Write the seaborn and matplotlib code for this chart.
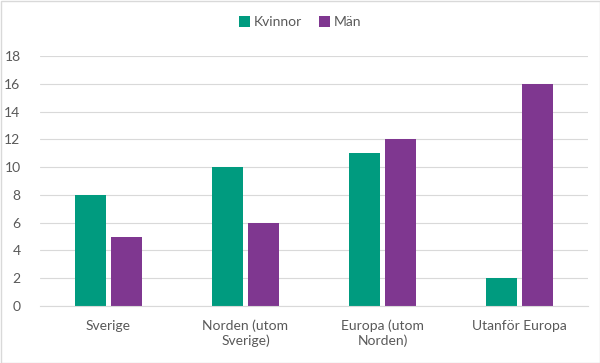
import matplotlib
matplotlib.use("Agg")
import matplotlib.pyplot as plt
import seaborn as sns
import pandas as pd
from matplotlib.patches import Rectangle

categories = ["Sverige", "Norden (utom\nSverige)", "Europa (utom\nNorden)", "Utanför Europa"]
kvinnor = [8, 10, 11, 2]
man = [5, 6, 12, 16]
series = ["Kvinnor", "Män"]
colors = ["#009B7F", "#7F3790"]

df = pd.DataFrame({
    "cat": categories * 2,
    "val": kvinnor + man,
    "kon": [series[0]] * 4 + [series[1]] * 4,
})

sns.set_style("white")
plt.rcParams["font.family"] = ["Lato", "DejaVu Sans"]

fig = plt.figure(figsize=(6, 3.63), dpi=100)
ax = fig.add_axes([40/600, 1-306/363, 548/600, 250/363])
sns.barplot(data=df, x="cat", y="val", hue="kon", palette=colors, ax=ax,
            width=0.52, gap=0.12, saturation=1, legend=True, linewidth=0)

ax.set_ylim(0, 18)
ax.set_yticks(range(0, 19, 2))
ax.grid(axis="y", color="#D9D9D9", linewidth=0.8)
ax.set_axisbelow(True)
for s in ["top", "right", "left"]:
    ax.spines[s].set_visible(False)
ax.spines["bottom"].set_color("#D9D9D9")
ax.set_xlabel("")
ax.set_ylabel("")
ax.tick_params(axis="both", length=0, colors="#595959", labelsize=10)
ax.tick_params(axis="x", pad=10)
ax.tick_params(axis="y", pad=14)

h, l = ax.get_legend_handles_labels()
ax.legend(h, l, loc="center", bbox_to_anchor=(0.5, 1-22/363), bbox_transform=fig.transFigure,
          ncol=2, frameon=False, fontsize=10, handlelength=0.8, handleheight=0.8,
          handletextpad=0.3, columnspacing=1.2, labelcolor="#595959")

fig.patches.append(Rectangle((0.5/600, 0.5/363), 1-1/600, 1-1/363, transform=fig.transFigure,
                             fill=False, edgecolor="#D9D9D9", linewidth=1))
fig.savefig("out.png", dpi=100, facecolor="white")
